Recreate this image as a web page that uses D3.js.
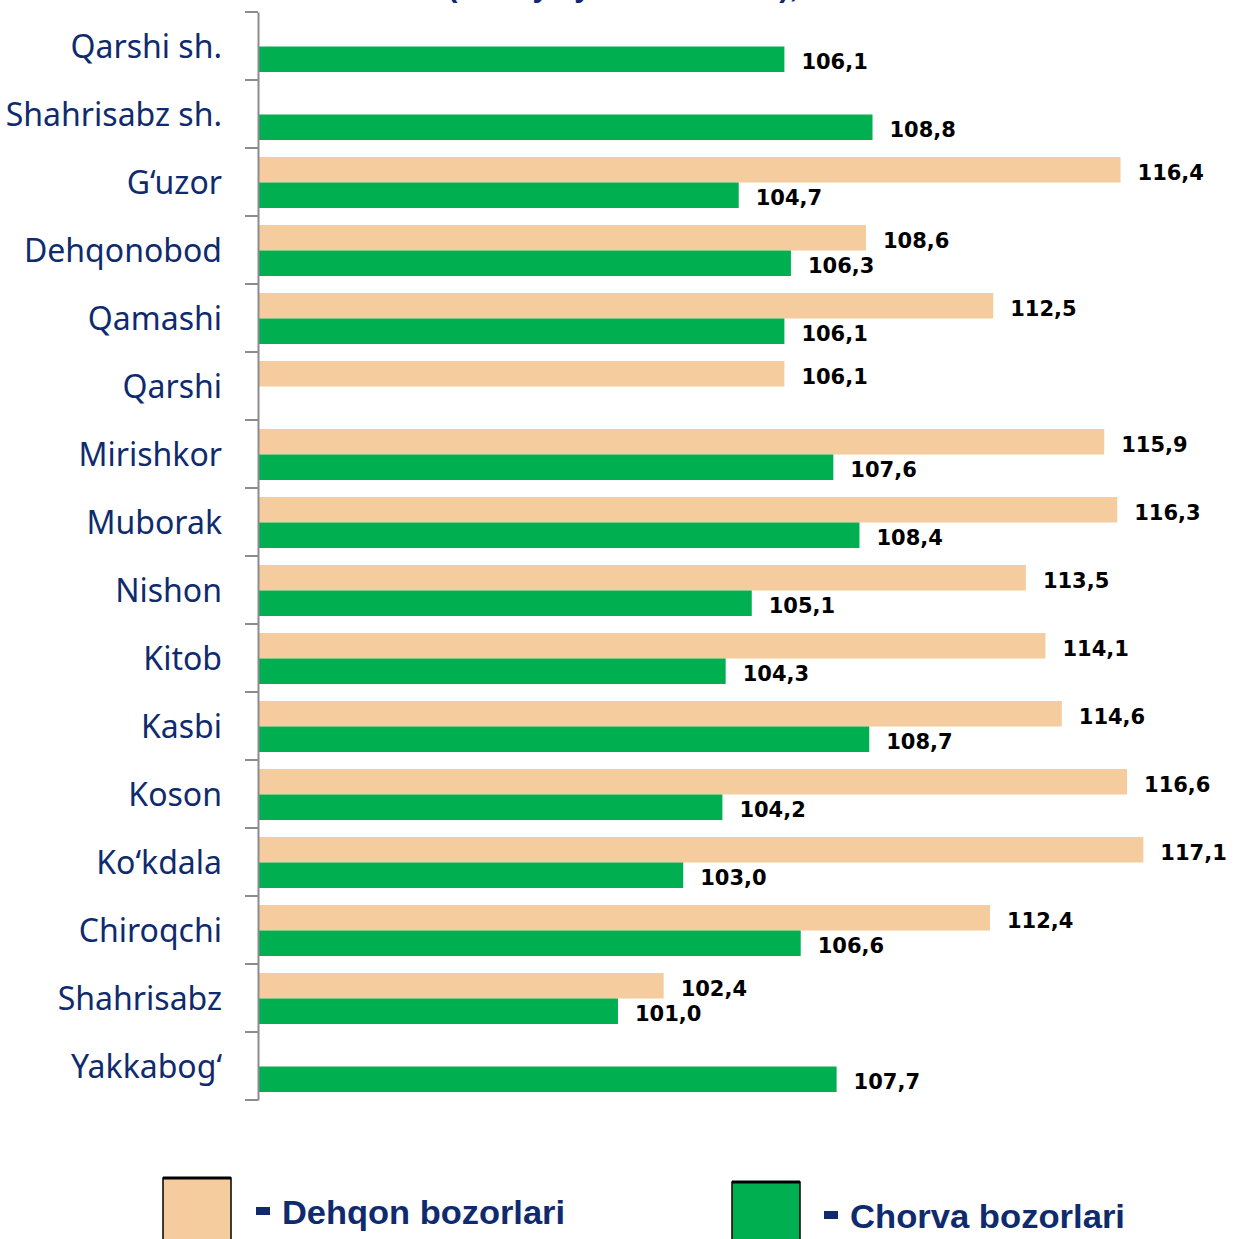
<!DOCTYPE html>
<html>
<head>
<meta charset="utf-8">
<script src="https://cdn.jsdelivr.net/npm/d3@7"></script>
<style>
  body { margin: 0; background: #fff; }
  svg { display: block; }
</style>
</head>
<body>
<svg id="chart" width="1238" height="1239"></svg>
<script>
// districts, top to bottom
const categories = ["Qarshi sh.", "Shahrisabz sh.", "G‘uzor", "Dehqonobod", "Qamashi", "Qarshi",
  "Mirishkor", "Muborak", "Nishon", "Kitob", "Kasbi", "Koson", "Ko‘kdala", "Chiroqchi",
  "Shahrisabz", "Yakkabog‘"];

// Dehqon bozorlari (null = no bar)
const dehqon = [null, null, 116.4, 108.6, 112.5, 106.1, 115.9, 116.3, 113.5, 114.1, 114.6,
  116.6, 117.1, 112.4, 102.4, null];

// Chorva bozorlari
const chorva = [106.1, 108.8, 104.7, 106.3, 106.1, null, 107.6, 108.4, 105.1, 104.3, 108.7,
  104.2, 103.0, 106.6, 101.0, 107.7];

const seriesNames = ["Dehqon bozorlari", "Chorva bozorlari"];
const colors = ["#F4CC9D", "#00B050"];
const navy = "#0F2B6E";

const svg = d3.select("#chart");

const x = d3.scaleLinear().domain([90, 120]).range([259, 1238]);
const y = d3.scaleBand().domain(categories).range([12, 1100]);

// cropped title at the very top
svg.append("text")
  .attr("x", 640).attr("y", -3)
  .attr("text-anchor", "middle")
  .attr("font-family", "Liberation Sans, Arial, sans-serif")
  .attr("font-weight", "bold")
  .attr("font-size", 30)
  .attr("fill", navy)
  .text("(2024 yil yanvar-dekabr), %");

// bars
const rows = categories.map((c, i) => ({ cat: c, vals: [dehqon[i], chorva[i]] }));
const barH = 25.5;
const barOff = [9, 34.5];

const g = svg.append("g");
rows.forEach(r => {
  r.vals.forEach((v, k) => {
    if (v == null) return;
    const y0 = y(r.cat) + barOff[k];
    g.append("rect")
      .attr("x", x(90))
      .attr("y", y0)
      .attr("width", x(v) - x(90))
      .attr("height", barH)
      .attr("fill", colors[k]);
    g.append("text")
      .attr("x", x(v) + 17)
      .attr("y", y0 + barH / 2 + 4)
      .attr("dominant-baseline", "middle")
      .attr("font-family", "DejaVu Sans, sans-serif")
      .attr("font-weight", "bold")
      .attr("font-size", 21)
      .attr("fill", "#000")
      .text(d3.format(".1f")(v).replace(".", ","));
  });
});

// category axis
const axis = svg.append("g")
  .attr("transform", `translate(${x(90) - 1},0)`)
  .call(d3.axisLeft(y).tickSize(0).tickPadding(36));
axis.select(".domain").attr("stroke", "#8c8c8c").attr("stroke-width", 2);
axis.selectAll(".tick text")
  .attr("font-family", "Noto Sans, sans-serif")
  .attr("font-size", 32)
  .attr("dy", "0.36em")
  .attr("fill", navy);

// tick marks between categories
const boundaries = categories.map(c => y(c)).concat([y.range()[1]]);
svg.append("g").selectAll("line")
  .data(boundaries)
  .join("line")
  .attr("x1", x(90) - 14).attr("x2", x(90) - 1)
  .attr("y1", d => d).attr("y2", d => d)
  .attr("stroke", "#8c8c8c")
  .attr("stroke-width", 2);

// legend
const legend = [
  { name: seriesNames[0], color: colors[0], sx: 163, sy: 1178, tx: 256, ty: 1224, w: 283 },
  { name: seriesNames[1], color: colors[1], sx: 732, sy: 1182, tx: 824, ty: 1228, w: 275 }
];
legend.forEach(l => {
  svg.append("rect")
    .attr("x", l.sx).attr("y", l.sy)
    .attr("width", 68).attr("height", 80)
    .attr("fill", l.color)
    .attr("stroke", "#000").attr("stroke-width", 1.5);
  svg.append("line")
    .attr("x1", l.sx).attr("x2", l.sx + 68)
    .attr("y1", l.sy).attr("y2", l.sy)
    .attr("stroke", "#000").attr("stroke-width", 3);
  svg.append("rect")
    .attr("x", l.tx).attr("y", l.ty - 17)
    .attr("width", 14).attr("height", 8)
    .attr("fill", navy);
  svg.append("text")
    .attr("x", l.tx + 26).attr("y", l.ty)
    .attr("font-family", "Liberation Sans, Arial, sans-serif")
    .attr("font-weight", "bold")
    .attr("font-size", 34)
    .attr("textLength", l.w)
    .attr("lengthAdjust", "spacingAndGlyphs")
    .attr("fill", navy)
    .text(l.name);
});
</script>
</body>
</html>
